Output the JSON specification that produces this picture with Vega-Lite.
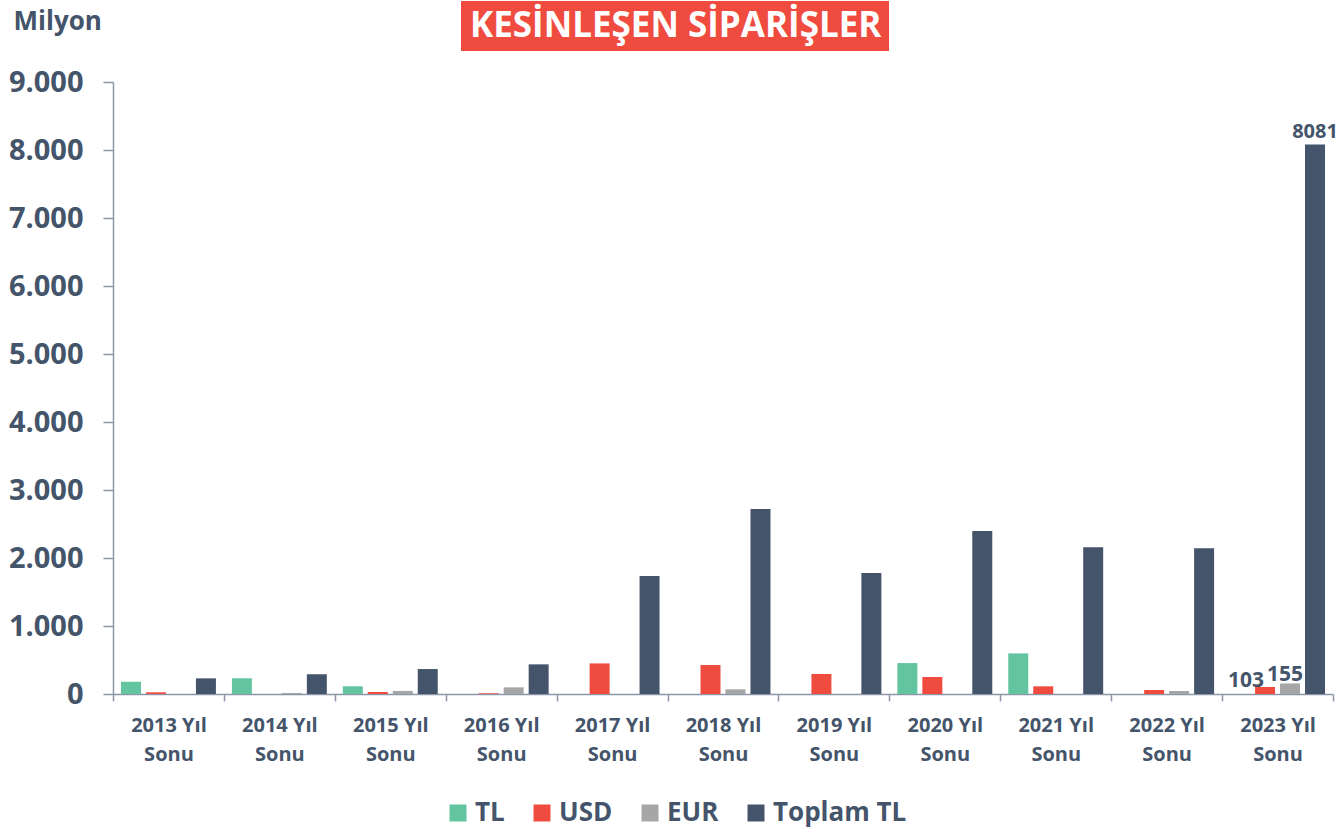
{
  "$schema": "https://vega.github.io/schema/vega-lite/v6.json",
  "width": 1220,
  "height": 612,
  "autosize": {"type": "none"},
  "padding": {"left": 113, "top": 82, "right": 8, "bottom": 138},
  "background": "white",
  "config": {"view": {"stroke": null}, "font": "Open Sans"},
  "datasets": {
    "siparis": [
      {"donem": "2013 Yıl Sonu", "seri": "TL", "deger": 180},
      {"donem": "2013 Yıl Sonu", "seri": "USD", "deger": 25},
      {"donem": "2013 Yıl Sonu", "seri": "EUR", "deger": 0},
      {"donem": "2013 Yıl Sonu", "seri": "Toplam TL", "deger": 230},
      {"donem": "2014 Yıl Sonu", "seri": "TL", "deger": 230},
      {"donem": "2014 Yıl Sonu", "seri": "USD", "deger": 0},
      {"donem": "2014 Yıl Sonu", "seri": "EUR", "deger": 15},
      {"donem": "2014 Yıl Sonu", "seri": "Toplam TL", "deger": 290},
      {"donem": "2015 Yıl Sonu", "seri": "TL", "deger": 113},
      {"donem": "2015 Yıl Sonu", "seri": "USD", "deger": 30},
      {"donem": "2015 Yıl Sonu", "seri": "EUR", "deger": 45},
      {"donem": "2015 Yıl Sonu", "seri": "Toplam TL", "deger": 367},
      {"donem": "2016 Yıl Sonu", "seri": "TL", "deger": 0},
      {"donem": "2016 Yıl Sonu", "seri": "USD", "deger": 10},
      {"donem": "2016 Yıl Sonu", "seri": "EUR", "deger": 98},
      {"donem": "2016 Yıl Sonu", "seri": "Toplam TL", "deger": 436},
      {"donem": "2017 Yıl Sonu", "seri": "TL", "deger": 0},
      {"donem": "2017 Yıl Sonu", "seri": "USD", "deger": 450},
      {"donem": "2017 Yıl Sonu", "seri": "EUR", "deger": 0},
      {"donem": "2017 Yıl Sonu", "seri": "Toplam TL", "deger": 1735},
      {"donem": "2018 Yıl Sonu", "seri": "TL", "deger": 0},
      {"donem": "2018 Yıl Sonu", "seri": "USD", "deger": 426},
      {"donem": "2018 Yıl Sonu", "seri": "EUR", "deger": 69},
      {"donem": "2018 Yıl Sonu", "seri": "Toplam TL", "deger": 2720},
      {"donem": "2019 Yıl Sonu", "seri": "TL", "deger": 0},
      {"donem": "2019 Yıl Sonu", "seri": "USD", "deger": 294},
      {"donem": "2019 Yıl Sonu", "seri": "EUR", "deger": 0},
      {"donem": "2019 Yıl Sonu", "seri": "Toplam TL", "deger": 1778},
      {"donem": "2020 Yıl Sonu", "seri": "TL", "deger": 455},
      {"donem": "2020 Yıl Sonu", "seri": "USD", "deger": 250},
      {"donem": "2020 Yıl Sonu", "seri": "EUR", "deger": 0},
      {"donem": "2020 Yıl Sonu", "seri": "Toplam TL", "deger": 2396},
      {"donem": "2021 Yıl Sonu", "seri": "TL", "deger": 597},
      {"donem": "2021 Yıl Sonu", "seri": "USD", "deger": 113},
      {"donem": "2021 Yıl Sonu", "seri": "EUR", "deger": 0},
      {"donem": "2021 Yıl Sonu", "seri": "Toplam TL", "deger": 2158},
      {"donem": "2022 Yıl Sonu", "seri": "TL", "deger": 0},
      {"donem": "2022 Yıl Sonu", "seri": "USD", "deger": 59},
      {"donem": "2022 Yıl Sonu", "seri": "EUR", "deger": 44},
      {"donem": "2022 Yıl Sonu", "seri": "Toplam TL", "deger": 2144},
      {"donem": "2023 Yıl Sonu", "seri": "TL", "deger": 0},
      {"donem": "2023 Yıl Sonu", "seri": "USD", "deger": 103, "etiket": "103"},
      {"donem": "2023 Yıl Sonu", "seri": "EUR", "deger": 155, "etiket": "155"},
      {"donem": "2023 Yıl Sonu", "seri": "Toplam TL", "deger": 8081, "etiket": "8081"}
    ],
    "baslik": [{"baslik": "KESİNLEŞEN SİPARİŞLER"}]
  },
  "layer": [
    {
      "data": {"name": "siparis"},
      "mark": {"type": "bar"},
      "encoding": {
        "x": {
          "field": "donem", "type": "nominal", "sort": null,
          "scale": {"paddingInner": 0, "paddingOuter": 0},
          "axis": {
            "title": null, "labelAngle": 0,
            "labelExpr": "indexof(datum.label, 'Sonu') < 0 ? '' : [replace(datum.label, ' Sonu', ''), 'Sonu']",
            "labelFont": "Open Sans", "labelFontSize": 20, "labelFontWeight": "bold",
            "labelColor": "#44546a", "labelLineHeight": 29, "labelPadding": 14,
            "tickBand": "extent", "tickSize": 7, "tickColor": "#8c96a8", "tickWidth": 1.5,
            "domainColor": "#8c96a8", "domainWidth": 1.5
          }
        },
        "xOffset": {
          "field": "seri", "type": "nominal",
          "scale": {"domain": ["TL", "USD", "EUR", "Toplam TL"], "paddingInner": 0.2, "paddingOuter": 0.32}
        },
        "y": {
          "field": "deger", "type": "quantitative",
          "scale": {"domain": [0, 9000], "nice": false},
          "axis": {
            "title": "Milyon", "titleAngle": 0, "titleAlign": "left", "titleBaseline": "alphabetic",
            "titleX": -100, "titleY": -53, "titleFont": "Open Sans", "titleFontSize": 26,
            "titleFontWeight": "bold", "titleColor": "#44546a",
            "values": [0, 1000, 2000, 3000, 4000, 5000, 6000, 7000, 8000, 9000],
            "labelExpr": "replace(format(datum.value, ','), ',', '.')",
            "labelFont": "Open Sans", "labelFontSize": 29, "labelFontWeight": "bold",
            "labelColor": "#44546a", "labelPadding": 20,
            "tickSize": 10, "tickColor": "#8c96a8", "tickWidth": 1.5,
            "domainColor": "#8c96a8", "domainWidth": 1.5, "grid": false
          }
        },
        "color": {
          "field": "seri", "type": "nominal",
          "scale": {"domain": ["TL", "USD", "EUR", "Toplam TL"], "range": ["#63c5a0", "#ef4b3f", "#a6a6a6", "#44546a"]},
          "legend": {
            "title": null, "orient": "none", "legendX": 332, "legendY": 718,
            "direction": "horizontal", "symbolType": "square", "symbolSize": 289,
            "symbolStrokeWidth": 0, "labelFont": "Open Sans", "labelFontSize": 26,
            "labelFontWeight": "bold", "labelColor": "#44546a", "labelOffset": 4,
            "columnPadding": 24, "labelLimit": 0
          }
        }
      }
    },
    {
      "data": {"name": "siparis"},
      "transform": [{"filter": "datum.etiket == '8081'"}],
      "mark": {"type": "text", "baseline": "alphabetic", "dy": -6, "font": "Open Sans", "fontSize": 20, "fontWeight": "bold", "color": "#44546a"},
      "encoding": {
        "x": {"field": "donem", "type": "nominal", "sort": null},
        "xOffset": {"field": "seri", "type": "nominal"},
        "y": {"field": "deger", "type": "quantitative"},
        "text": {"field": "etiket", "type": "nominal"}
      }
    },
    {
      "data": {"name": "siparis"},
      "transform": [{"filter": "datum.etiket == '155'"}],
      "mark": {"type": "text", "baseline": "alphabetic", "dy": -2, "dx": -5, "font": "Open Sans", "fontSize": 21, "fontWeight": "bold", "color": "#44546a"},
      "encoding": {
        "x": {"field": "donem", "type": "nominal", "sort": null},
        "xOffset": {"field": "seri", "type": "nominal"},
        "y": {"field": "deger", "type": "quantitative"},
        "text": {"field": "etiket", "type": "nominal"}
      }
    },
    {
      "data": {"name": "siparis"},
      "transform": [{"filter": "datum.etiket == '103'"}],
      "mark": {"type": "text", "baseline": "alphabetic", "dy": 0, "dx": -19, "font": "Open Sans", "fontSize": 21, "fontWeight": "bold", "color": "#44546a"},
      "encoding": {
        "x": {"field": "donem", "type": "nominal", "sort": null},
        "xOffset": {"field": "seri", "type": "nominal"},
        "y": {"field": "deger", "type": "quantitative"},
        "text": {"field": "etiket", "type": "nominal"}
      }
    },
    {
      "data": {"name": "baslik"},
      "mark": {"type": "point", "opacity": 0},
      "encoding": {
        "shape": {
          "field": "baslik", "type": "nominal",
          "legend": {
            "title": null, "orient": "none", "legendX": 348, "legendY": -81,
            "fillColor": "#ef4b3f", "padding": 7, "symbolSize": 0, "symbolOpacity": 0,
            "symbolStrokeWidth": 0, "labelOffset": -33, "labelColor": "white",
            "labelFont": "Open Sans", "labelFontSize": 35, "labelFontWeight": "bold",
            "labelLimit": 0
          }
        }
      }
    }
  ]
}
